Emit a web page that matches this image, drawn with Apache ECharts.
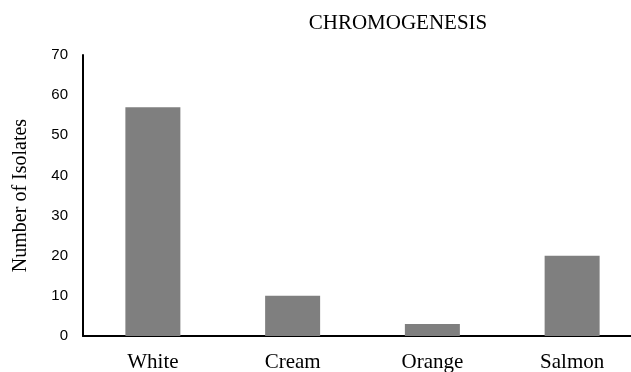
<!DOCTYPE html>
<html>
<head>
<meta charset="utf-8">
<script src="https://cdn.jsdelivr.net/npm/echarts@6/dist/echarts.min.js"></script>
<style>html,body{margin:0;padding:0;background:#fff;overflow:hidden}#c{width:631px;height:372px}</style>
</head>
<body>
<div id="c"></div>
<script>
const categories = ['White', 'Cream', 'Orange', 'Salmon'];
const isolates = [57, 10, 3, 20];
const yTicks = [0, 10, 20, 30, 40, 50, 60, 70];

const chart = echarts.init(document.getElementById('c'), null, {renderer: 'canvas'});
chart.setOption({
  animation: false,
  backgroundColor: '#ffffff',
  title: {
    text: 'CHROMOGENESIS',
    left: 393, top: 8, textAlign: 'center',
    textStyle: {fontFamily: 'Liberation Serif', fontWeight: 'normal', fontSize: 21, color: '#000'}
  },
  grid: {left: 83, width: 559, top: 55, bottom: 36, containLabel: false, outerBoundsMode: 'none'},
  xAxis: {
    type: 'category',
    data: categories,
    axisLine: {lineStyle: {color: '#000', width: 2}},
    axisTick: {show: false},
    axisLabel: {fontFamily: 'Liberation Serif', fontSize: 21, color: '#000', margin: 16}
  },
  yAxis: {
    type: 'value',
    min: yTicks[0], max: yTicks[yTicks.length - 1], interval: 10,
    name: 'Number of Isolates',
    nameLocation: 'middle',
    nameGap: 52,
    nameTextStyle: {fontFamily: 'Liberation Serif', fontSize: 20, color: '#000'},
    axisLine: {show: true, lineStyle: {color: '#000', width: 2}},
    axisTick: {show: false},
    splitLine: {show: false},
    axisLabel: {fontFamily: 'Liberation Sans', fontSize: 15, color: '#000', margin: 15}
  },
  series: [{
    type: 'bar',
    data: isolates,
    barWidth: 55,
    itemStyle: {color: '#7f7f7f'}
  }]
});
</script>
</body>
</html>
